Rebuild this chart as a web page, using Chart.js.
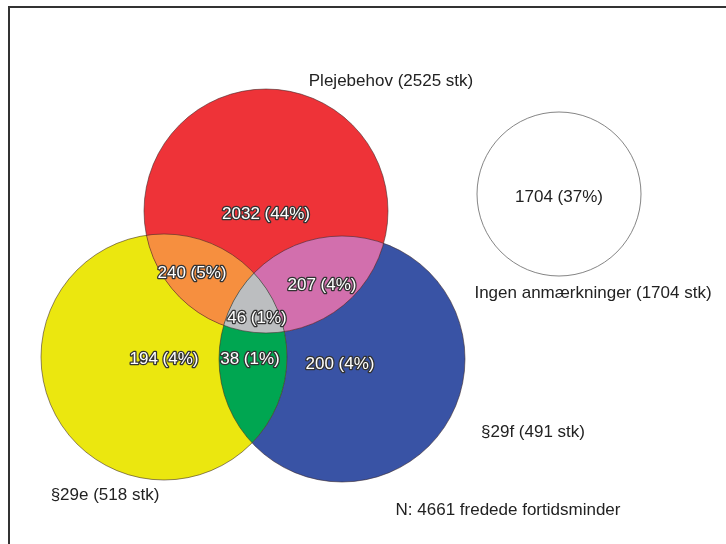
<!DOCTYPE html>
<html>
<head>
<meta charset="utf-8">
<script src="https://cdn.jsdelivr.net/npm/chart.js@4"></script>
<style>
  html, body { margin: 0; padding: 0; background: #fff; }
  #wrap { width: 726px; height: 544px; position: relative; }
</style>
</head>
<body>
<div id="wrap"><canvas id="venn" width="726" height="544"></canvas></div>
<script>
// Sets and their totals
const setNames = ['Plejebehov', '§29e', '§29f', 'Ingen anmærkninger'];
const setTotals = [2525, 518, 491, 1704];
const setColors = ['#ee3338', '#ebe70f', '#3953a5', '#ffffff'];

// Regions of the diagram (count and share of N)
const regionNames = ['Plejebehov', 'Plejebehov+§29e', 'Plejebehov+§29f', 'alle tre', '§29e', '§29e+§29f', '§29f', 'Ingen'];
const regionCounts = [2032, 240, 207, 46, 194, 38, 200, 1704];
const regionPercents = [44, 5, 4, 1, 4, 1, 4, 37];
const totalN = 4661;

// Layout of the circles in chart units (x 0..726, y 0..544 from the top)
const circleX = [266, 164, 342, 559];
const circleY = [211, 357, 359, 194];
const circleR = [122, 123, 123, 82];

// Overlap fills: [circle a, circle b, colour]
const pairOverlaps = [
    [0, 1, '#f68f3f'],
    [0, 2, '#d26fad'],
    [1, 2, '#00a651']
];
const tripleColor = '#bcbec0';

// Label anchors
const regionLabelX = [266, 192, 322, 257, 164, 250, 340, 559];
const regionLabelY = [214, 273, 285, 318, 359, 359, 364, 197];
const setLabelX = [391, 105, 533, 593];
const setLabelY = [81, 495, 432, 293];

const FONT = '17px "Liberation Sans", Arial, sans-serif';

function pxRadius(chart, i) {
    const xs = chart.scales.x;
    return Math.abs(xs.getPixelForValue(circleX[i] + circleR[i]) - xs.getPixelForValue(circleX[i]));
}

function circlePath(chart, ctx, i) {
    const xs = chart.scales.x, ys = chart.scales.y;
    ctx.beginPath();
    ctx.arc(xs.getPixelForValue(circleX[i]), ys.getPixelForValue(circleY[i]), pxRadius(chart, i), 0, Math.PI * 2);
}

/**
 * Paints overlaps, outlines, labels and frame on top of the circles
 */
const vennPlugin = {
    id: 'venn',
    beforeDraw(chart) {
        const ctx = chart.ctx;
        ctx.save();
        ctx.fillStyle = '#fff';
        ctx.fillRect(0, 0, chart.width, chart.height);
        ctx.restore();
    },
    afterDatasetsDraw(chart) {
        const ctx = chart.ctx;
        const xs = chart.scales.x, ys = chart.scales.y;

        // pairwise overlaps
        pairOverlaps.forEach(([a, b, color]) => {
            ctx.save();
            circlePath(chart, ctx, a);
            ctx.clip();
            circlePath(chart, ctx, b);
            ctx.fillStyle = color;
            ctx.fill();
            ctx.restore();
        });

        // triple overlap
        ctx.save();
        circlePath(chart, ctx, 0);
        ctx.clip();
        circlePath(chart, ctx, 1);
        ctx.clip();
        circlePath(chart, ctx, 2);
        ctx.fillStyle = tripleColor;
        ctx.fill();
        ctx.restore();

        // outlines
        ctx.save();
        ctx.lineWidth = 0.8;
        [0, 1, 2].forEach(i => {
            circlePath(chart, ctx, i);
            ctx.strokeStyle = 'rgba(60,40,40,0.7)';
            ctx.stroke();
        });
        circlePath(chart, ctx, 3);
        ctx.strokeStyle = '#666';
        ctx.stroke();
        ctx.restore();

        // region labels
        ctx.save();
        ctx.font = FONT;
        ctx.textAlign = 'center';
        ctx.textBaseline = 'middle';
        ctx.lineJoin = 'round';
        regionCounts.forEach((count, i) => {
            const text = `${count} (${regionPercents[i]}%)`;
            const x = xs.getPixelForValue(regionLabelX[i]);
            const y = ys.getPixelForValue(regionLabelY[i]);
            if (i === regionCounts.length - 1) {
                ctx.fillStyle = '#222';
                ctx.fillText(text, x, y);
            } else {
                ctx.strokeStyle = '#333';
                ctx.lineWidth = 2.6;
                ctx.strokeText(text, x, y);
                ctx.fillStyle = '#fff';
                ctx.fillText(text, x, y);
            }
        });

        // set labels
        ctx.fillStyle = '#222';
        setNames.forEach((name, i) => {
            ctx.fillText(`${name} (${setTotals[i]} stk)`,
                xs.getPixelForValue(setLabelX[i]), ys.getPixelForValue(setLabelY[i]));
        });
        ctx.fillText(`N: ${totalN} fredede fortidsminder`, xs.getPixelForValue(508), ys.getPixelForValue(510));
        ctx.restore();

        // frame (top and left edges visible)
        ctx.save();
        ctx.strokeStyle = '#333';
        ctx.lineWidth = 2;
        ctx.beginPath();
        ctx.moveTo(xs.getPixelForValue(9), ys.getPixelForValue(544));
        ctx.lineTo(xs.getPixelForValue(9), ys.getPixelForValue(7));
        ctx.lineTo(xs.getPixelForValue(726), ys.getPixelForValue(7));
        ctx.stroke();
        ctx.restore();
    }
};

const datasets = setNames.map((name, i) => ({
    label: name,
    data: [{ x: circleX[i], y: circleY[i] }],
    backgroundColor: setColors[i],
    borderColor: 'rgba(0,0,0,0)',
    pointRadius: ctx => pxRadius(ctx.chart, i),
    pointBorderWidth: 0,
    clip: false
}));

new Chart(document.getElementById('venn'), {
    type: 'scatter',
    data: { datasets: datasets },
    options: {
        responsive: false,
        animation: false,
        events: [],
        layout: { padding: 0 },
        plugins: {
            legend: { display: false },
            tooltip: { enabled: false }
        },
        scales: {
            x: { type: 'linear', min: 0, max: 726, display: false },
            y: { type: 'linear', min: 0, max: 544, reverse: true, display: false }
        }
    },
    plugins: [vennPlugin]
});
</script>
</body>
</html>
